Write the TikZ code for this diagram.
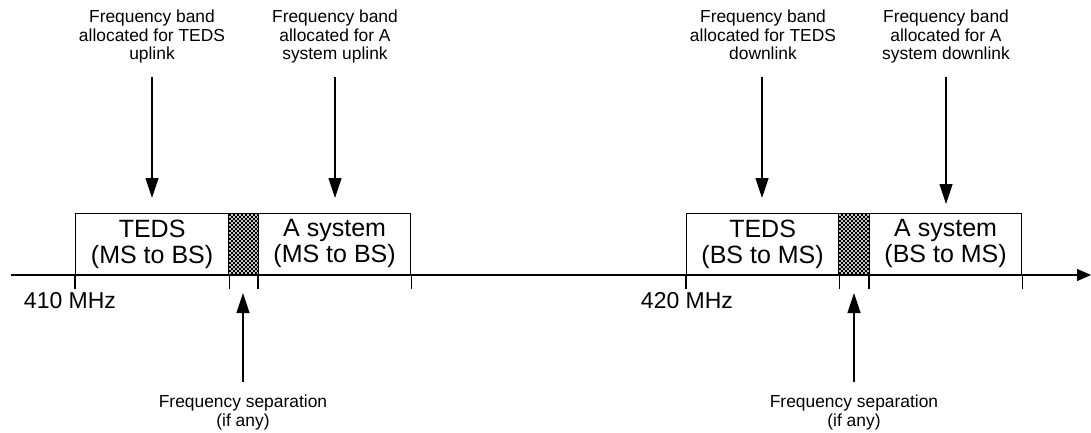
\documentclass[tikz,border=0pt]{standalone}
\usepackage{fontspec}
\setmainfont{Liberation Sans}
\usetikzlibrary{arrows.meta,patterns.meta}
\tikzdeclarepattern{
  name=densecross,
  type=uncolored,
  bottom left={(-.5pt,-.5pt)},
  top right={(4.5pt,4.5pt)},
  tile size={(4pt,4pt)},
  code={\draw[line width=1.0pt] (0pt,0pt)--(4pt,4pt) (0pt,4pt)--(4pt,0pt);}
}
\tikzset{
  line/.style={line width=1.2pt},
  small/.style={font=\fontsize{17.4}{18.5}\selectfont, align=center, inner sep=0pt},
  mid/.style={font=\fontsize{23}{26}\selectfont, inner sep=0pt},
  band/.style={draw, line width=1.2pt, minimum height=61pt, inner sep=0pt, anchor=south west,
     font=\fontsize{25}{26}\selectfont, align=center},
  gap/.style={draw, line width=1.2pt, minimum height=61pt, inner sep=0pt, anchor=south west,
     pattern={densecross}, pattern color=black},
  arr/.style={line width=1.2pt, -{Triangle[length=20pt,width=13pt]}},
  axarr/.style={line width=1.2pt, -{Triangle[length=14pt,width=12pt]}},
}
\begin{document}
\begin{tikzpicture}[x=1pt,y=-1pt]
\useasboundingbox (0,0) rectangle (1091,433);
% axis
\coordinate (ax0) at (11,275);
\coordinate (ax1) at (1091,275);
\draw[axarr] (ax0) -- (ax1);
% left bands
\node[band, minimum width=153pt] (b1) at (75,275) {TEDS\\(MS to BS)};
\node[gap, minimum width=30pt] (g1) at (228,275) {};
\node[band, minimum width=152pt] (b2) at (258,275) {A system\\(MS to BS)};
% right bands
\node[band, minimum width=152pt] (b3) at (686,275) {TEDS\\(BS to MS)};
\node[gap, minimum width=31pt] (g2) at (838,275) {};
\node[band, minimum width=152pt] (b4) at (869,275) {A system\\(BS to MS)};
% ticks
\foreach \n in {b1,b2,b3,b4}{
  \draw[line] (\n.south west) -- ++(0,14);
  \draw[line] (\n.south east) -- ++(0,14);
}
% frequency labels
\node[mid] (f410) at (70,301) {410 MHz};
\node[mid] (f420) at (687,301) {420 MHz};
% top labels
\node[small, anchor=north] (l1) at (152,10) {Frequency band\\allocated for TEDS\\uplink};
\node[small, anchor=north] (l2) at (335,10) {Frequency band\\allocated for A\\system uplink};
\node[small, anchor=north] (l3) at (763,10) {Frequency band\\allocated for TEDS\\downlink};
\node[small, anchor=north] (l4) at (946,10) {Frequency band\\allocated for A\\system downlink};
\coordinate (s1) at (152,77); \coordinate (e1) at (152,198);
\coordinate (s2) at (335,77); \coordinate (e2) at (335,198);
\coordinate (s3) at (762,77); \coordinate (e3) at (762,198);
\coordinate (s4) at (946,77); \coordinate (e4) at (946,204);
\draw[arr] (s1) -- (e1);
\draw[arr] (s2) -- (e2);
\draw[arr] (s3) -- (e3);
\draw[arr] (s4) -- (e4);
% bottom labels
\node[small, anchor=north] (sep1) at (243,395) {Frequency separation\\(if any)};
\node[small, anchor=north] (sep2) at (854,395) {Frequency separation\\(if any)};
\coordinate (u1) at (243,382); \coordinate (t1) at (243,293);
\coordinate (u2) at (854,382); \coordinate (t2) at (854,293);
\draw[arr] (u1) -- (t1);
\draw[arr] (u2) -- (t2);
\end{tikzpicture}
\end{document}
